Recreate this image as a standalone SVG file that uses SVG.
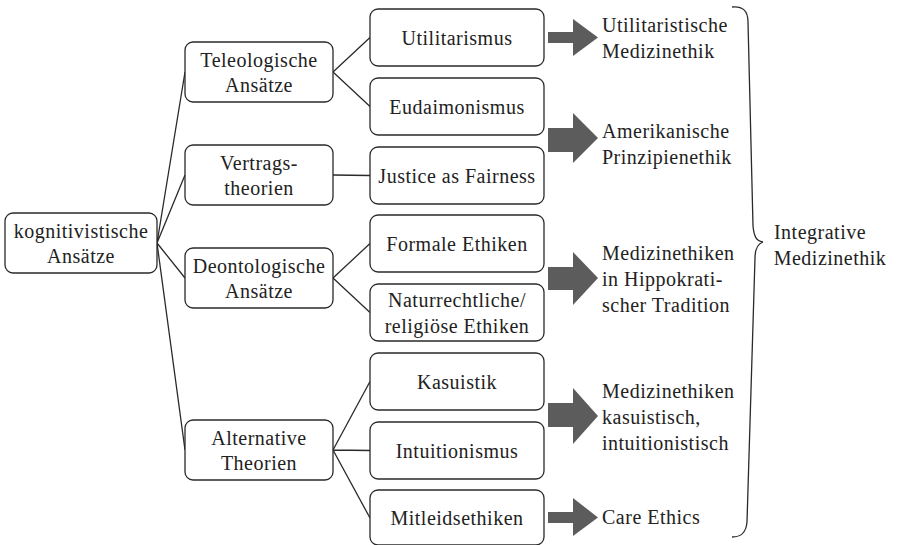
<svg xmlns="http://www.w3.org/2000/svg" width="897" height="545" viewBox="0 0 897 545">
<style>
.box{fill:#fff;stroke:#2a2a2a;stroke-width:1.3}
.t{font-family:"Liberation Serif","Times New Roman",serif;font-size:20px;letter-spacing:0.5px;fill:#222;text-anchor:middle}
.l{font-family:"Liberation Serif","Times New Roman",serif;font-size:20px;letter-spacing:0.5px;fill:#222;text-anchor:start}
.c{fill:none;stroke:#2a2a2a;stroke-width:1.3}
.arr{fill:#5c5c5c}
</style>
<rect width="897" height="545" fill="#fff"/>
<g id="connectors">
<path class="c" d="M157 243 L185 72 M157 243 L185 175 M157 243 L185 278 M157 243 L185 450"/>
<path class="c" d="M333 72 L370 37.5 M333 72 L370 106.5 M333 175 L370 175.5 M333 278 L370 243.5 M333 278 L370 312.5 M333 450 L370 381.5 M333 450 L370 450.5 M333 450 L370 518"/>
</g>
<g id="root"><rect class="box" x="5" y="213" width="152" height="60" rx="8"/><text class="t" x="81" y="237.5">kognitivistische</text><text class="t" x="81" y="263">Ansätze</text></g>
<g id="teleo"><rect class="box" x="185" y="42" width="148" height="60" rx="8"/><text class="t" x="259" y="66.5">Teleologische</text><text class="t" x="259" y="92">Ansätze</text></g>
<g id="vertrag"><rect class="box" x="185" y="145" width="148" height="60" rx="8"/><text class="t" x="259" y="169.5">Vertrags-</text><text class="t" x="259" y="195">theorien</text></g>
<g id="deonto"><rect class="box" x="185" y="248" width="148" height="60" rx="8"/><text class="t" x="259" y="272.5">Deontologische</text><text class="t" x="259" y="298">Ansätze</text></g>
<g id="altern"><rect class="box" x="185" y="420" width="148" height="60" rx="8"/><text class="t" x="259" y="444.5">Alternative</text><text class="t" x="259" y="470">Theorien</text></g>
<g id="util"><rect class="box" x="370" y="9" width="174" height="57" rx="8"/><text class="t" x="457" y="45">Utilitarismus</text></g>
<g id="eudai"><rect class="box" x="370" y="78" width="174" height="57" rx="8"/><text class="t" x="457" y="114">Eudaimonismus</text></g>
<g id="justice"><rect class="box" x="370" y="147" width="174" height="57" rx="8"/><text class="t" x="457" y="183">Justice as Fairness</text></g>
<g id="formal"><rect class="box" x="370" y="215" width="174" height="57" rx="8"/><text class="t" x="457" y="251">Formale Ethiken</text></g>
<g id="natur"><rect class="box" x="370" y="284" width="174" height="57" rx="8"/><text class="t" x="457" y="307">Naturrechtliche/</text><text class="t" x="457" y="332.5">religiöse Ethiken</text></g>
<g id="kasu"><rect class="box" x="370" y="353" width="174" height="57" rx="8"/><text class="t" x="457" y="389">Kasuistik</text></g>
<g id="intui"><rect class="box" x="370" y="422" width="174" height="57" rx="8"/><text class="t" x="457" y="458">Intuitionismus</text></g>
<g id="mitleid"><rect class="box" x="370" y="490" width="174" height="55" rx="8"/><text class="t" x="457" y="525">Mitleidsethiken</text></g>
<g id="arrows">
<polygon class="arr" points="548,32 573,32 573,19 598,37.5 573,56 573,43 548,43"/>
<polygon class="arr" points="548,128 573,128 573,113 598,138 573,163 573,152 548,152"/>
<polygon class="arr" points="548,267 573,267 573,252 598,278 573,305 573,290 548,290"/>
<polygon class="arr" points="548,403 573,403 573,388 598,416 573,444 573,427 548,427"/>
<polygon class="arr" points="548,512 573,512 573,498 598,517.5 573,536 573,523 548,523"/>
</g>
<g id="out1"><text class="l" x="602" y="32">Utilitaristische</text><text class="l" x="602" y="57.5">Medizinethik</text></g>
<g id="out2"><text class="l" x="602" y="137.5">Amerikanische</text><text class="l" x="602" y="163.5">Prinzipienethik</text></g>
<g id="out3"><text class="l" x="602" y="260">Medizinethiken</text><text class="l" x="602" y="286">in Hippokrati-</text><text class="l" x="602" y="312">scher Tradition</text></g>
<g id="out4"><text class="l" x="602" y="398">Medizinethiken</text><text class="l" x="602" y="424">kasuistisch,</text><text class="l" x="602" y="450">intuitionistisch</text></g>
<g id="out5"><text class="l" x="602" y="524">Care Ethics</text></g>
<g id="brace"><path class="c" d="M732 7 C742 6 748 10 748 22 L753 226 C754 236 756 241 763 242 C757 244 755 249 755 258 L747 522 C746 533 741 537 732 537"/></g>
<g id="integr"><text class="t" x="820" y="239">Integrative</text><text class="t" x="830" y="265">Medizinethik</text></g>
</svg>
